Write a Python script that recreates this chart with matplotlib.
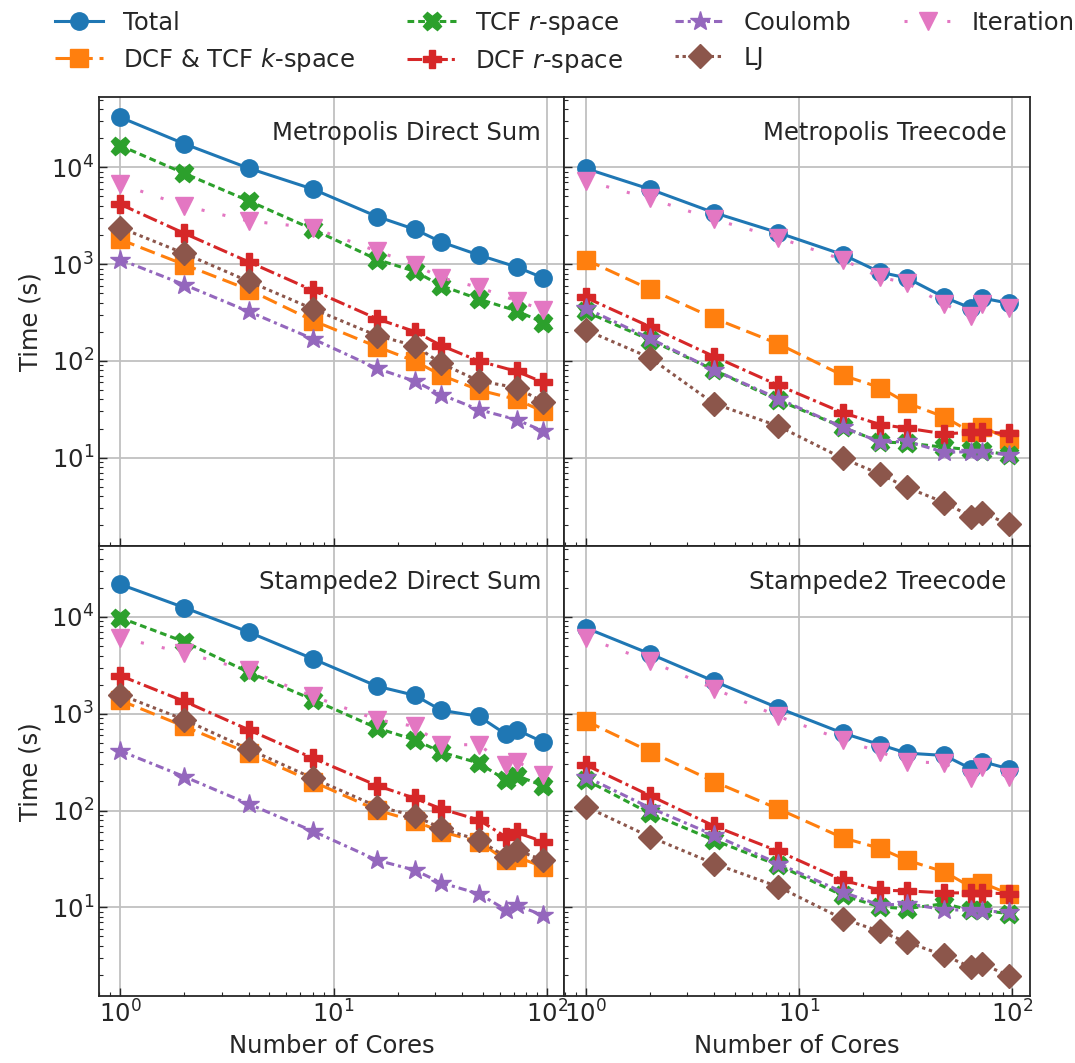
import numpy as np
import matplotlib
matplotlib.use("Agg")
import matplotlib.pyplot as plt

plt.rcParams['font.family'] = ['DejaVu Sans']
plt.rcParams['font.size'] = 17.5
plt.rcParams['text.color'] = '#262626'
plt.rcParams['axes.labelcolor'] = '#262626'
plt.rcParams['xtick.color'] = '#262626'
plt.rcParams['ytick.color'] = '#262626'

# core counts
cores_ds_metro = [1, 2, 4, 8, 16, 24, 32, 48, 72, 96]
cores_full = [1, 2, 4, 8, 16, 24, 32, 48, 64, 72, 96]

labels = ['Total', 'DCF & TCF $k$-space', 'TCF $r$-space', 'DCF $r$-space',
          'Coulomb', 'LJ', 'Iteration']

# Metropolis Direct Sum
md_total = [33000, 17500, 9800, 5960, 3100, 2290, 1690, 1240, 935, 720]
md_kspace = [1800, 988, 545, 261, 140, 99.6, 71, 50, 40, 30]
md_tcf_r = [16800, 8660, 4510, 2290, 1115, 843, 598, 435, 329, 249]
md_dcf_r = [4160, 2080, 1056, 536, 272, 201, 144, 99.6, 78, 60]
md_coul = [1115, 613, 324, 169, 83.5, 61.7, 44.8, 31.3, 24.7, 18.8]
md_lj = [2380, 1290, 664, 345, 182, 144, 94, 62, 53, 37.6]
md_iter = [6710, 4000, 2790, 2380, 1360, 990, 720, 575, 418, 337]

# Metropolis Treecode
mt_total = [9760, 5960, 3400, 2110, 1257, 824, 720, 453, 351, 446, 395]
mt_kspace = [1115, 550, 276, 150, 71, 53, 36.7, 26.3, 18.3, 20.7, 15.7]
mt_tcf_r = [324, 165, 80.5, 39.2, 20.7, 14.5, 14.2, 12.8, 12.1, 11.8, 10.7]
mt_dcf_r = [453, 226, 111, 56, 29.2, 22, 20.2, 17.6, 18.3, 18.3, 17.9]
mt_coul = [351, 171, 80.5, 40.7, 20.7, 14.5, 14.7, 11.4, 11.5, 11.4, 10.7]
mt_lj = [209, 108, 36.2, 21.2, 9.85, 6.77, 4.92, 3.44, 2.46, 2.71, 2.05]
mt_iter = [7260, 4770, 2900, 1874, 1115, 731, 638, 386, 292, 386, 351]

# Stampede2 Direct Sum
sd_total = [21800, 12500, 6990, 3700, 1925, 1552, 1086, 940, 617, 684, 509]
sd_kspace = [1377, 741, 392, 199, 101, 77.8, 60.4, 47.6, 30.7, 33.2, 26.2]
sd_tcf_r = [9840, 5540, 2690, 1400, 711, 538, 401, 309, 207, 230, 180]
sd_dcf_r = [2480, 1345, 684, 348, 181, 134, 104, 79.8, 53.6, 59.4, 47.6]
sd_coul = [414, 224, 117, 61.3, 30.7, 24.2, 17.9, 13.8, 9.46, 10.5, 8.27]
sd_lj = [1578, 869, 431, 216, 110, 88.5, 65.3, 49.4, 33.3, 39, 30.7]
sd_iter = [6110, 4270, 2800, 1517, 869, 741, 479, 479, 297, 321, 233]

# Stampede2 Treecode
st_total = [7740, 4170, 2170, 1148, 632, 479, 392, 371, 270, 321, 270]
st_kspace = [847, 407, 199, 104, 52.4, 40.6, 30.7, 23.2, 16.2, 17.9, 13.8]
st_tcf_r = [208, 93.6, 49.5, 27.2, 13.3, 10.1, 9.68, 10.9, 9.32, 9.32, 8.6]
st_dcf_r = [297, 143, 69.2, 38, 19.1, 15.0, 14.8, 14.1, 14.1, 14.1, 13.8]
st_coul = [224, 107, 55.7, 28.3, 14.4, 10.5, 10.9, 9.46, 9.32, 9.1, 8.96]
st_lj = [110, 53.6, 28.3, 16.3, 7.62, 5.64, 4.37, 3.18, 2.40, 2.60, 1.97]
st_iter = [6110, 3500, 1820, 940, 538, 401, 321, 309, 216, 279, 224]

panels = [
    ('Metropolis Direct Sum', cores_ds_metro,
     [md_total, md_kspace, md_tcf_r, md_dcf_r, md_coul, md_lj, md_iter]),
    ('Metropolis Treecode', cores_full,
     [mt_total, mt_kspace, mt_tcf_r, mt_dcf_r, mt_coul, mt_lj, mt_iter]),
    ('Stampede2 Direct Sum', cores_full,
     [sd_total, sd_kspace, sd_tcf_r, sd_dcf_r, sd_coul, sd_lj, sd_iter]),
    ('Stampede2 Treecode', cores_full,
     [st_total, st_kspace, st_tcf_r, st_dcf_r, st_coul, st_lj, st_iter]),
]

colors = ['C0', 'C1', 'C2', 'C3', 'C4', 'C5', 'C6']
markers = ['o', 's', 'X', 'P', '*', 'D', 'v']
styles = ['-', (0, (5.0, 2.2)), (0, (2.2, 1.3)), (0, (4.8, 1.3, 1.0, 1.3)),
          (0, (2.7, 1.3, 1.0, 1.3)), (0, (1.1, 1.2)), (0, (1.0, 6.0))]
msizes = [12.5, 12.5, 13.5, 13.5, 14.5, 12.5, 13.5]

fig, axes = plt.subplots(2, 2, sharex=True, sharey=True, figsize=(10.75, 10.63), dpi=100)
fig.subplots_adjust(left=0.092, right=0.958, top=0.909, bottom=0.063,
                    wspace=0, hspace=0)

for ax, (title, x, series) in zip(axes.flat, panels):
    for i, y in enumerate(series):
        ax.plot(x, y, color=colors[i], marker=markers[i], ls=styles[i],
                lw=2.2, ms=msizes[i], label=labels[i])
    ax.set_xscale('log')
    ax.set_yscale('log')
    ax.grid(True, which='major', color='#c0c0c0', lw=1.3)
    ax.set_axisbelow(True)
    ax.tick_params(which='both', direction='in')
    ax.tick_params(which='major', length=6, width=1.0)
    ax.tick_params(which='minor', length=3, width=0.8)
    for s in ax.spines.values():
        s.set_color('#262626')
        s.set_linewidth(1.3)
    ax.text(0.95, 0.92, title, transform=ax.transAxes, ha='right', va='center',
            fontsize=17.5)

for ax in axes[:, 0]:
    ax.set_ylabel('Time (s)', labelpad=6)
for ax in axes[1, :]:
    ax.set_xlabel('Number of Cores')

handles, labs = axes[0, 0].get_legend_handles_labels()
fig.legend(handles, labs, loc='upper left', bbox_to_anchor=(0.042, 1.0),
           borderaxespad=0, ncol=4, frameon=False, columnspacing=2.15,
           handlelength=2.0, handletextpad=0.8, labelspacing=0.45,
           fontsize=17.5)

fig.savefig('out.png', dpi=100)
